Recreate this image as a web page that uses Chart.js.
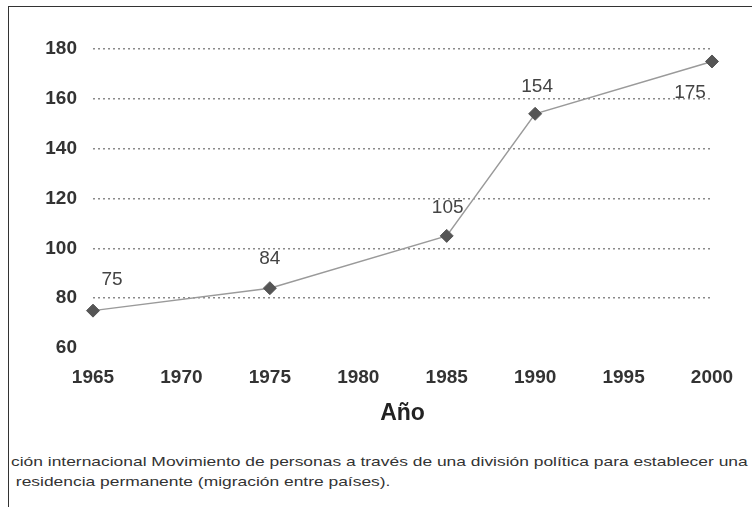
<!DOCTYPE html>
<html>
<head>
<meta charset="utf-8">
<script src="https://cdn.jsdelivr.net/npm/chart.js@4.4.1/dist/chart.umd.min.js"></script>
<style>
  body { margin: 0; background: #fff; }
  #wrap { position: relative; width: 752px; height: 507px; overflow: hidden; }
  #frame { position: absolute; left: 8px; top: 6px; width: 760px; height: 520px;
           border-left: 1.5px solid #333; border-top: 1.5px solid #333; }
  #chart { position: absolute; left: 0; top: 0; }
  .cap { position: absolute; left: 11px; font: 13.5px "Liberation Sans", Arial, sans-serif;
         line-height: 16px; color: #333; white-space: nowrap;
         transform: scaleX(1.29); transform-origin: left center; }
</style>
</head>
<body>
<div id="wrap">
  <div id="frame"></div>
  <canvas id="chart" width="752" height="432"></canvas>
  <div class="cap" style="top:454px">ción internacional Movimiento de personas a través de una división política para establecer una</div>
  <div class="cap" style="top:474px">&nbsp;residencia permanente (migración entre países).</div>
</div>
<script>
const years = [1965, 1975, 1985, 1990, 2000];
const migrantes = [75, 84, 105, 154, 175];
const yTicks = [60, 80, 100, 120, 140, 160, 180];
const xTicks = [1965, 1970, 1975, 1980, 1985, 1990, 1995, 2000];

// where each value label sits relative to its point
const labelOffsets = [[19, -31], [0, -29], [1, -28], [2, -27], [-22, 31]];

const valueLabels = {
  id: 'valueLabels',
  afterDatasetsDraw(chart) {
    const ctx = chart.ctx;
    const meta = chart.getDatasetMeta(0);
    ctx.save();
    ctx.font = '19px "Liberation Sans", Arial, sans-serif';
    ctx.fillStyle = '#444';
    ctx.textAlign = 'center';
    ctx.textBaseline = 'middle';
    meta.data.forEach((pt, i) => {
      ctx.fillText(String(migrantes[i]), pt.x + labelOffsets[i][0], pt.y + labelOffsets[i][1]);
    });
    ctx.restore();
  }
};

const font = '"Liberation Sans", Arial, sans-serif';

new Chart(document.getElementById('chart'), {
  type: 'line',
  data: {
    datasets: [{
      data: years.map((y, i) => ({ x: y, y: migrantes[i] })),
      borderColor: '#9a9a9a',
      borderWidth: 1.5,
      pointStyle: 'rectRot',
      pointRadius: 6.5,
      pointBackgroundColor: '#555',
      pointBorderColor: '#555',
      pointBorderWidth: 1,
      tension: 0,
      clip: false
    }]
  },
  options: {
    responsive: false,
    animation: false,
    layout: { padding: { top: 49, right: 40, left: 0, bottom: 0 } },
    plugins: { legend: { display: false }, tooltip: { enabled: false } },
    scales: {
      x: {
        type: 'linear',
        min: 1965, max: 2000,
        afterBuildTicks: s => { s.ticks = xTicks.map(v => ({ value: v })); },
        afterFit: s => { s.height = 84; },
        grid: { display: false, drawTicks: false },
        border: { display: false },
        ticks: {
          padding: 18,
          color: '#333',
          font: { family: font, size: 19, weight: 'bold' },
          callback: v => String(v)
        },
        title: {
          display: true,
          text: 'Año',
          color: '#222',
          padding: { top: 0, bottom: 5 },
          font: { family: font, size: 23, weight: 'bold' }
        }
      },
      y: {
        min: 60, max: 180,
        afterBuildTicks: s => { s.ticks = yTicks.map(v => ({ value: v })); },
        afterFit: s => { s.width = 93; },
        border: { display: false, dash: [2, 3] },
        grid: {
          drawTicks: false,
          color: c => c.tick && c.tick.value === 60 ? 'rgba(0,0,0,0)' : '#8a8a8a',
          lineWidth: 1.5
        },
        ticks: {
          padding: 16,
          color: '#333',
          font: { family: font, size: 19, weight: 'bold' }
        }
      }
    }
  },
  plugins: [valueLabels]
});
</script>
</body>
</html>
